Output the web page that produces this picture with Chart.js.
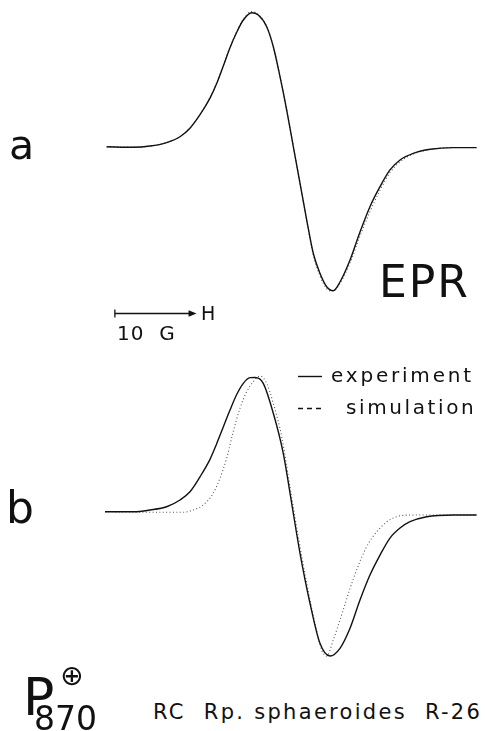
<!DOCTYPE html>
<html>
<head>
<meta charset="utf-8">
<script src="https://cdn.jsdelivr.net/npm/chart.js@4.4.1/dist/chart.umd.min.js"></script>
<style>
  html, body { margin: 0; padding: 0; background: #fff; }
  #wrap { position: relative; width: 485px; height: 731px; overflow: hidden; background: #fff; }
  canvas { position: absolute; left: 0; }
  #cA { top: 0; }
  #cB { top: 360px; }
  .t { position: absolute; font-family: "DejaVu Sans", sans-serif; color: #111; line-height: 1; white-space: pre; }
</style>
</head>
<body>
<div id="wrap">
  <canvas id="cA" width="485" height="320"></canvas>
  <canvas id="cB" width="485" height="320"></canvas>

  <div class="t" style="left:9px; top:125px; font-size:41px;">a</div>
  <div class="t" style="left:6px; top:486px; font-size:44px;">b</div>
  <div class="t" style="left:379px; top:260px; font-size:44px; letter-spacing:2px;">EPR</div>
  <div class="t" style="left:201px; top:304px; font-size:19px;">H</div>
  <div class="t" style="left:117px; top:323px; font-size:20px; letter-spacing:1px;">10  G</div>
  <div class="t" style="left:331px; top:365px; font-size:20px; letter-spacing:2.8px;">experiment</div>
  <div class="t" style="left:346px; top:397px; font-size:20px; letter-spacing:2.6px;">simulation</div>
  <div class="t" style="left:23px; top:671px; font-size:52px;">P</div>
  <div class="t" style="left:34px; top:702px; font-size:33px;">870</div>
  <div class="t" style="left:60px; top:662px; font-size:28px;">⊕</div>
  <div class="t" style="left:153px; top:702px; font-size:21px; letter-spacing:2.3px;">RC  Rp. sphaeroides  R-26</div>
</div>
<script>
// Magnetic field offset (G) relative to the centre of the line, and derivative signal (a.u., peak ≈ 100)
const fieldExpA = [-22.8,-19.58,-17.5,-15.46,-13.83,-12.61,-11.38,-10.16,-9.34,-8.53,-7.71,-6.89,-6.08,-5.06,-4.25,-3.22,-2.41,-1.59,-0.77,0.04,0.86,1.68,2.48,3.30,4.12,4.93,5.75,6.98,8.20,9.42,10.65,11.87,13.10,14.72,16.81,19.62,22.48];
const signalExpA = [0.2,-0.2,0.7,3.3,7.6,13.9,23.9,36.2,47.0,60.0,73.5,85.0,94.1,99.5,97.8,89.1,74.3,52.1,27.4,0.2,-26.9,-54.1,-78.7,-93.6,-103.5,-106.4,-100.0,-83.7,-63.0,-44.2,-29.4,-17.0,-9.6,-4.7,-1.7,-0.5,-0.5];

const fieldSimA = [-22.8,-19.58,-17.5,-15.46,-13.83,-12.61,-11.38,-10.16,-9.34,-8.53,-7.71,-6.89,-6.08,-5.06,-4.25,-3.22,-2.41,-1.59,-0.77,0.04,0.86,1.68,2.48,3.30,4.12,4.93,5.75,6.98,8.20,9.42,10.65,11.87,13.10,14.72,16.81,19.62,22.48];
const signalSimA = [0.0,0.0,0.6,3.3,7.8,14.2,24.2,36.5,47.4,60.4,74.0,85.5,94.6,100.4,98.2,89.5,74.6,52.5,27.8,0.5,-26.5,-54.5,-80.0,-95.5,-105.0,-106.8,-101.0,-86.0,-66.0,-48.0,-32.0,-19.0,-11.0,-5.2,-1.8,-0.4,-0.4];

const fieldExpB = [-23.01,-19.55,-17.5,-15.46,-13.83,-12.61,-11.38,-10.16,-9.34,-8.53,-7.71,-6.89,-6.08,-5.26,-4.65,-3.64,-2.41,-1.19,-0.16,0.86,2.08,3.30,4.53,5.75,6.98,8.20,9.42,10.65,11.87,13.10,14.32,16.36,19.62,22.48];
const signalExpB = [0.2,0.2,1.5,3.9,8.9,15.0,26.1,39.0,50.6,63.0,75.5,87.0,95.3,99.5,99.6,95.3,73.1,43.5,6.4,-30.6,-67.6,-97.3,-106.7,-101.0,-86.1,-65.2,-46.7,-31.9,-19.3,-11.9,-7.2,-3.5,-2.2,-2.2];

const fieldSimB = [-23.01,-15.46,-13.43,-12.20,-10.98,-9.76,-8.94,-8.12,-7.31,-6.49,-5.67,-4.86,-4.04,-3.22,-2.41,-1.38,-0.37,0.65,1.68,2.69,3.51,4.12,4.93,5.75,7.38,8.93,10.44,12.28,14.72,19.62,22.48];
const signalSimB = [0.2,-0.2,-0.2,1.5,5.2,13.9,25.0,39.8,59.5,76.8,89.1,96.5,100.7,95.3,80.5,55.8,18.7,-18.3,-52.8,-82.4,-102.2,-106.7,-94.8,-80.0,-49.6,-26.7,-13.3,-4.4,-2.2,-2.2,-2.2];

const seriesNames = ["experiment", "simulation"];
const scaleBarStartG = -21.8;   // start of the "10 G" field bar
const scaleBarLengthG = 10;
const scaleBarLevel = -122.6;    // vertical level of the field bar in panel a units

function pts(xs, ys) { return xs.map((x, i) => ({ x: x, y: ys[i] })); }

function makeChart(id, exp, sim, yMin, yMax, extraPlugin) {
  return new Chart(document.getElementById(id), {
    type: 'scatter',
    data: {
      datasets: [
        { label: seriesNames[0], data: exp, showLine: true, borderColor: '#111', borderWidth: 1.4,
          pointRadius: 0, cubicInterpolationMode: 'monotone', fill: false },
        { label: seriesNames[1], data: sim, showLine: true, borderColor: '#555', borderWidth: 1.1,
          borderDash: [1, 2.4], pointRadius: 0, cubicInterpolationMode: 'monotone', fill: false }
      ]
    },
    options: {
      responsive: false, animation: false, devicePixelRatio: 1,
      layout: { padding: 0 },
      plugins: { legend: { display: false }, tooltip: { enabled: false }, title: { display: false } },
      scales: {
        x: { type: 'linear', min: -35.86, max: 23.5, display: false },
        y: { type: 'linear', min: yMin, max: yMax, display: false }
      },
      clip: false
    },
    plugins: extraPlugin ? [extraPlugin] : []
  });
}

const scaleBarPlugin = {
  id: 'scaleBar',
  afterDraw(chart) {
    const ctx = chart.ctx, xs = chart.scales.x, ys = chart.scales.y;
    const x0 = xs.getPixelForValue(scaleBarStartG);
    const x1 = xs.getPixelForValue(scaleBarStartG + scaleBarLengthG);
    const y = Math.round(ys.getPixelForValue(scaleBarLevel)) + 0.5;
    ctx.save();
    ctx.strokeStyle = '#111'; ctx.fillStyle = '#111'; ctx.lineWidth = 1.3;
    ctx.beginPath(); ctx.moveTo(x0, y); ctx.lineTo(x1 - 6, y); ctx.stroke();
    ctx.beginPath(); ctx.moveTo(x0, y - 4); ctx.lineTo(x0, y + 4); ctx.stroke();
    ctx.beginPath(); ctx.moveTo(x1, y); ctx.lineTo(x1 - 8, y - 3.2); ctx.lineTo(x1 - 8, y + 3.2); ctx.closePath(); ctx.fill();
    ctx.restore();
  }
};

const legendPlugin = {
  id: 'legendSamples',
  afterDraw(chart) {
    const ctx = chart.ctx;
    ctx.save();
    ctx.strokeStyle = '#111'; ctx.lineWidth = 1.4;
    ctx.beginPath(); ctx.moveTo(298, 16.5); ctx.lineTo(322, 16.5); ctx.stroke();
    ctx.setLineDash([5, 4]);
    ctx.beginPath(); ctx.moveTo(298, 48.5); ctx.lineTo(322, 48.5); ctx.stroke();
    ctx.restore();
  }
};

makeChart('cA', pts(fieldExpA, signalExpA), pts(fieldSimA, signalSimA), -128.15, 108.89, scaleBarPlugin);
makeChart('cB', pts(fieldExpB, signalExpB), pts(fieldSimB, signalSimB), -124.44, 112.59, legendPlugin);
</script>
</body>
</html>
